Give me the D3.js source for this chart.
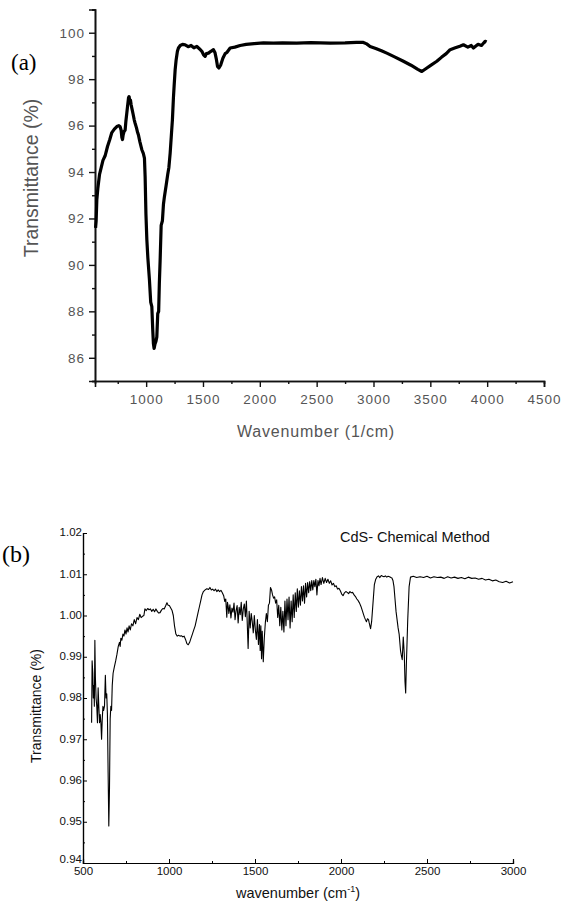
<!DOCTYPE html>
<html><head><meta charset="utf-8">
<script src="https://cdn.jsdelivr.net/npm/d3@7"></script>
<style>
html,body{margin:0;padding:0;background:#fff;}
svg{display:block;}
</style></head>
<body>
<svg id="c" width="564" height="904"></svg>
<script>
// ---------- Panel (a) data ----------
const aWave = [555,560,566,575,590,605,620,639,660,680,698,720,742,760,771,780,786,792,798,806,815,822,830,838,845,850,856,862,868,874,885,895,903,915,925,932,945,962,975,985,991,998,1006,1015,1029,1040,1050,1058,1064,1070,1078,1086,1094,1102,1110,1116,1123,1132,1143,1152,1161,1175,1190,1200,1211,1222,1231,1240,1246,1255,1264,1275,1284,1300,1320,1343,1370,1395,1420,1446,1470,1490,1505,1519,1530,1548,1570,1592,1605,1618,1628,1640,1655,1675,1695,1710,1739,1780,1827,1880,1950,2032,2120,2200,2325,2450,2618,2750,2850,2911,2940,2970,3020,3070,3117,3190,3263,3330,3390,3425,3460,3500,3557,3600,3640,3674,3720,3760,3791,3830,3860,3879,3920,3950,3982,3995];
const aTrans = [91.6,91.9,92.8,93.3,93.9,94.2,94.5,94.7,95.1,95.4,95.7,95.85,95.96,96.0,95.95,95.8,95.5,95.4,95.6,95.75,95.8,96.2,96.55,96.9,97.2,97.25,97.05,97.1,96.9,96.75,96.5,96.25,96.1,95.9,95.7,95.6,95.3,94.96,94.8,94.6,93.8,92.2,91.1,90.3,89.35,88.4,88.2,87.2,86.6,86.4,86.6,86.7,86.9,87.9,88.0,89.2,90.2,91.7,91.9,92.6,92.95,93.4,93.9,94.2,94.8,95.6,96.25,97.2,97.7,98.4,98.84,99.2,99.34,99.45,99.5,99.48,99.4,99.45,99.35,99.41,99.3,99.2,99.05,98.98,99.1,99.12,99.2,99.27,99.15,98.85,98.55,98.48,98.6,98.9,99.1,99.15,99.34,99.38,99.45,99.5,99.53,99.56,99.55,99.56,99.55,99.57,99.55,99.56,99.58,99.58,99.52,99.41,99.32,99.22,99.12,98.95,98.77,98.6,98.42,98.33,98.45,98.58,98.77,98.95,99.1,99.27,99.35,99.42,99.48,99.38,99.45,99.34,99.5,99.45,99.63,99.6];
const aXTicks = [1000,1500,2000,2500,3000,3500,4000,4500];
const aXMinor = [750,1250,1750,2250,2750,3250,3750,4250];
const aYTicks = [86,88,90,92,94,96,98,100];
const aYMinor = [85,87,89,91,93,95,97,99,101];

// ---------- Panel (b) data ----------
const bWave = [550,553,557,560,563,566,569,572,576,580,584,588,592,596,600,604,608,612,616,620,625,630,634,638,642,646,650,654,658,662,666,670,675,682,690,697,705,712,716,720,726,732,738,744,750,756,762,768,775,782,790,798,806,814,822,830,838,846,854,860,868,876,884,892,900,908,916,924,932,940,948,956,964,972,980,988,995,1002,1010,1018,1025,1032,1040,1048,1056,1064,1072,1080,1088,1096,1104,1112,1120,1128,1136,1144,1152,1160,1168,1176,1184,1192,1200,1210,1220,1230,1238,1246,1254,1262,1270,1278,1286,1294,1302,1310,1318,1324,1330,1336,1340,1344,1348,1354,1360,1366,1372,1378,1384,1390,1396,1402,1408,1414,1420,1426,1432,1438,1444,1450,1454,1460,1466,1472,1478,1484,1490,1496,1502,1508,1514,1520,1526,1530,1534,1538,1542,1548,1554,1560,1566,1572,1578,1584,1590,1596,1602,1608,1614,1620,1626,1632,1638,1644,1650,1656,1662,1668,1674,1680,1686,1692,1698,1704,1710,1716,1722,1728,1734,1740,1746,1752,1758,1764,1770,1776,1782,1788,1794,1800,1806,1812,1818,1824,1830,1836,1842,1848,1854,1860,1866,1872,1878,1884,1892,1900,1908,1916,1924,1932,1940,1948,1956,1964,1972,1980,1988,1996,2004,2012,2020,2028,2036,2044,2052,2060,2068,2076,2084,2092,2100,2108,2116,2124,2130,2136,2142,2148,2154,2160,2164,2168,2172,2178,2186,2194,2202,2210,2218,2226,2234,2242,2250,2258,2266,2274,2282,2290,2296,2302,2308,2314,2320,2326,2332,2338,2342,2346,2350,2356,2362,2368,2372,2376,2380,2388,2396,2404,2420,2440,2460,2480,2500,2520,2540,2560,2580,2600,2620,2640,2660,2680,2700,2720,2740,2760,2780,2800,2820,2840,2860,2880,2900,2920,2940,2960,2980,3000];
const bTrans = [0.974,0.989,0.986,0.980,0.983,0.978,0.994,0.985,0.980,0.978,0.974,0.9825,0.978,0.974,0.976,0.974,0.970,0.975,0.978,0.977,0.978,0.9855,0.980,0.981,0.976,0.962,0.949,0.958,0.975,0.978,0.977,0.983,0.986,0.9875,0.989,0.9905,0.9925,0.9935,0.9925,0.9945,0.994,0.9955,0.995,0.9965,0.9955,0.997,0.996,0.9975,0.9965,0.998,0.9975,0.999,0.998,0.9995,0.999,1.0003,0.9995,0.9998,1.0000,1.0016,1.0012,1.0017,1.0014,1.0016,1.0010,1.0015,1.0009,1.0016,1.0010,1.0006,1.0007,1.0013,1.0017,1.0016,1.0023,1.0031,1.0025,1.0024,1.0018,1.0012,1.0000,0.9975,0.9955,0.9950,0.9952,0.9950,0.9951,0.9948,0.9950,0.9942,0.9932,0.9929,0.9935,0.9945,0.9955,0.9965,0.9975,0.9990,1.0005,1.0020,1.0035,1.0050,1.0058,1.0062,1.0065,1.0063,1.0068,1.0062,1.0064,1.0060,1.0064,1.0058,1.0062,1.0058,1.0061,1.0055,1.0048,1.0034,1.0040,0.9996,1.0032,1.0022,1.0005,1.0026,0.9994,1.0018,1.0008,1.0030,0.9990,1.0012,1.0024,0.9982,1.0020,1.0002,1.0032,0.9988,1.0016,1.0028,0.9997,1.0035,0.9992,0.9920,1.0010,0.9970,1.0005,0.9985,0.9958,1.0000,0.9965,0.9942,0.9990,0.9930,0.9978,0.9915,0.9975,0.9895,0.9962,0.9888,0.9945,0.9982,1.0005,0.9985,1.0025,1.0030,1.0068,1.0062,1.0050,1.0042,1.0045,1.0030,1.0038,0.9995,1.0025,0.9975,1.0020,0.9965,1.0010,0.9960,1.0035,0.9975,1.0040,0.9990,1.0045,0.9970,1.0035,0.9985,1.0050,0.9995,1.0055,1.0010,1.0065,1.0020,1.0060,1.0025,1.0070,1.0035,1.0072,1.0030,1.0078,1.0045,1.0080,1.0055,1.0082,1.0060,1.0085,1.0062,1.0085,1.0070,1.0088,1.0050,1.0085,1.0072,1.0090,1.0075,1.0092,1.0078,1.0090,1.0080,1.0088,1.0078,1.0084,1.0074,1.0078,1.0070,1.0072,1.0064,1.0066,1.0060,1.0052,1.0048,1.0055,1.0058,1.0056,1.0053,1.0058,1.0055,1.0056,1.0050,1.0046,1.0040,1.0036,1.0030,1.0022,1.0012,1.0004,0.9996,0.9990,0.9985,0.9992,0.9990,0.9982,0.9975,0.9968,0.9985,1.0030,1.0075,1.0088,1.0094,1.0096,1.0092,1.0097,1.0095,1.0094,1.0096,1.0093,1.0095,1.0094,1.0092,1.0091,1.0085,1.0070,1.0040,1.0010,0.9990,0.9970,0.9955,0.9935,0.9915,0.9905,0.9893,0.9948,0.9905,0.9840,0.9812,0.9880,0.9990,1.0070,1.0093,1.0095,1.0092,1.0094,1.0092,1.0095,1.0091,1.0094,1.0092,1.0093,1.0090,1.0094,1.0091,1.0093,1.0090,1.0092,1.0089,1.0093,1.0090,1.0091,1.0088,1.0090,1.0086,1.0088,1.0084,1.0086,1.0082,1.0080,1.0083,1.0079,1.0082,1.0084,1.0083,1.0086];
const bXTicks = [500,1000,1500,2000,2500,3000];
const bXMinor = [750,1250,1750,2250,2750];
const bYTicks = [0.94,0.95,0.96,0.97,0.98,0.99,1.00,1.01,1.02];
const bYMinor = [0.945,0.955,0.965,0.975,0.985,0.995,1.005,1.015];

const svg = d3.select("#c");

// ================= Panel (a) =================
const ax = d3.scaleLinear().domain([550, 4500]).range([95, 544]);
const ay = d3.scaleLinear().domain([85, 101]).range([381, 9.5]);
const ga = svg.append("g");

ga.append("g").attr("transform", `translate(${ax.range()[0]},0)`)
  .call(d3.axisLeft(ay).tickValues(aYTicks).tickSize(6).tickPadding(4).tickFormat(d3.format("d")));
ga.append("g").attr("transform", `translate(${ax.range()[0]},0)`)
  .call(d3.axisLeft(ay).tickValues(aYMinor).tickSize(3).tickFormat(""));
ga.append("g").attr("transform", `translate(0,${ay.range()[0]})`)
  .call(d3.axisBottom(ax).tickValues(aXTicks).tickSize(6).tickPadding(7).tickFormat(d3.format("d")));
ga.append("g").attr("transform", `translate(0,${ay.range()[0]})`)
  .call(d3.axisBottom(ax).tickValues(aXMinor).tickSize(3).tickFormat(""));
ga.selectAll(".domain").attr("stroke", "#111").attr("stroke-width", 1.6);
ga.selectAll(".tick line").attr("stroke", "#111").attr("stroke-width", 1.4);
ga.selectAll(".tick text").attr("fill", "#555").style("font-family", "Arial, 'Liberation Sans', sans-serif")
  .style("font-size", "13.5px").style("letter-spacing", "1px");

ga.append("path").datum(d3.zip(aWave, aTrans))
  .attr("fill", "none").attr("stroke", "#000").attr("stroke-width", 3.2).attr("stroke-linejoin", "round")
  .attr("d", d3.line().x(d => ax(d[0])).y(d => ay(d[1])));

ga.append("text").attr("transform", "translate(38,178) rotate(-90)").attr("text-anchor", "middle")
  .attr("fill", "#555").style("font-family", "Arial, 'Liberation Sans', sans-serif").style("font-size", "19.5px")
  .text("Transmittance (%)");
ga.append("text").attr("x", 316).attr("y", 437).attr("text-anchor", "middle")
  .attr("fill", "#555").style("font-family", "Arial, 'Liberation Sans', sans-serif").style("font-size", "16px")
  .style("letter-spacing", "0.8px").text("Wavenumber (1/cm)");
ga.append("text").attr("x", 11).attr("y", 70).style("font-family", "'Liberation Serif', 'Times New Roman', serif")
  .style("font-size", "23px").attr("fill", "#000").text("(a)");

// ================= Panel (b) =================
const bx = d3.scaleLinear().domain([500, 3000]).range([83, 513]);
const by = d3.scaleLinear().domain([0.94, 1.02]).range([863, 533]);
const gb = svg.append("g");

gb.append("g").attr("transform", `translate(${bx.range()[0]},0)`)
  .call(d3.axisLeft(by).tickValues(bYTicks).tickSize(-4).tickPadding(1).tickFormat(d3.format(".2f")))
  .selectAll(".tick text").attr("dy", d => d === bYTicks[0] ? "-0.05em" : "0.25em");
gb.append("g").attr("transform", `translate(${bx.range()[0]},0)`)
  .call(d3.axisLeft(by).tickValues(bYMinor).tickSize(-2).tickFormat(""));
gb.append("g").attr("transform", `translate(0,${by.range()[0]})`)
  .call(d3.axisBottom(bx).tickValues(bXTicks).tickSize(-4).tickPadding(4).tickFormat(d3.format("d")));
gb.append("g").attr("transform", `translate(0,${by.range()[0]})`)
  .call(d3.axisBottom(bx).tickValues(bXMinor).tickSize(-2).tickFormat(""));
gb.selectAll(".domain").attr("stroke", "#000").attr("stroke-width", 1.2);
gb.selectAll(".tick line").attr("stroke", "#000").attr("stroke-width", 1);
gb.selectAll(".tick text").attr("fill", "#111").style("font-family", "Arial, 'Liberation Sans', sans-serif")
  .style("font-size", "11.5px");

gb.append("path").datum(d3.zip(bWave, bTrans))
  .attr("fill", "none").attr("stroke", "#000").attr("stroke-width", 1.1).attr("stroke-linejoin", "round")
  .attr("d", d3.line().x(d => bx(d[0])).y(d => by(d[1])));

gb.append("text").attr("transform", "translate(41,706) rotate(-90)").attr("text-anchor", "middle")
  .attr("fill", "#111").style("font-family", "Arial, 'Liberation Sans', sans-serif").style("font-size", "14px")
  .text("Transmittance (%)");
const xl = gb.append("text").attr("x", 298).attr("y", 898).attr("text-anchor", "middle")
  .attr("fill", "#111").style("font-family", "Arial, 'Liberation Sans', sans-serif").style("font-size", "14.5px");
xl.append("tspan").text("wavenumber (cm");
xl.append("tspan").attr("dy", -6).style("font-size", "9px").text("-1");
xl.append("tspan").attr("dy", 6).text(")");
gb.append("text").attr("x", 340).attr("y", 542)
  .attr("fill", "#111").style("font-family", "Arial, 'Liberation Sans', sans-serif").style("font-size", "14.5px")
  .text("CdS- Chemical Method");
gb.append("text").attr("x", 2).attr("y", 562).style("font-family", "'Liberation Serif', 'Times New Roman', serif")
  .style("font-size", "24px").attr("fill", "#000").text("(b)");
</script>
</body></html>
